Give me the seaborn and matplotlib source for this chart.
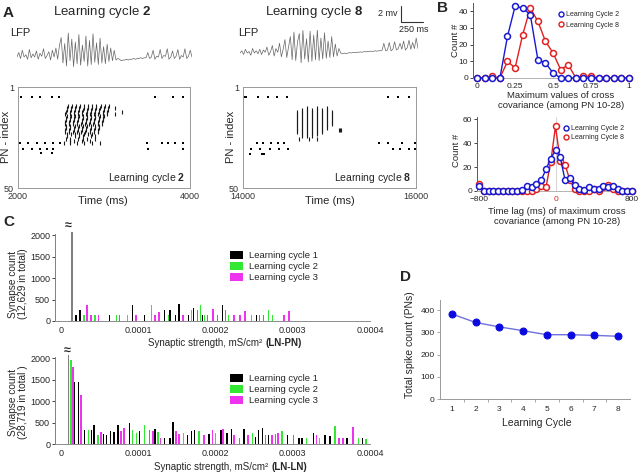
import numpy as np
import matplotlib
matplotlib.use("Agg")
import matplotlib.pyplot as plt
import seaborn as sns
from matplotlib.patches import Patch
from matplotlib.lines import Line2D

sns.set_style("white")
plt.rcParams["font.family"] = ["Liberation Sans", "DejaVu Sans"]
plt.rcParams["mathtext.fontset"] = "custom"
plt.rcParams["mathtext.rm"] = "Liberation Sans"
plt.rcParams["mathtext.bf"] = "Liberation Sans:bold"
plt.rcParams["axes.edgecolor"] = "0.45"
plt.rcParams["axes.linewidth"] = 0.7

# ---------------- data ----------------
# A: LFP traces (mV, relative to baseline), sampled evenly over the 2 s window
lfp_c2 = [0, 0.6, -0.2, 0.9, 0, 0.3, -0.3, 1.0, -0.1, 0.4, 0, 0.8, -0.3, 0.5, 0.1, 1.1, -0.2, 0.2, 0.7, -0.4,
          0.9, 0.0, 1.2, -0.3, 1.5,
          2.6, -0.8, 1.8, -1.2, 3.2, -0.5, 2.4, -1.3, 2.0, -0.9, 3.0, -1.1, 1.6, -0.6, 2.8, -1.2, 2.2, -1.0,
          3.1, -0.7, 1.9, -1.0, 2.5, -0.8, 1.4, -0.9, 1.7, -0.6, 1.2, -0.5, 0.9, -0.4,
          -0.2, -0.3, -0.5, -0.4, -0.4, -0.3, -0.4, -0.3, -0.3, -0.2, -0.3, -0.2, -0.2, -0.1, -0.2, -0.1, -0.1,
          0.6, -0.2, 0.0, 0.9, -0.3, 0.1, 0.0, 1.0, -0.2, 0.2, 0.1, 1.1, -0.3, 0.0, 0.8, -0.2, 0.1, 1.0, -0.3,
          0.2, 0.0, 1.1, -0.2, 0.1, 0.9, 0.0]
lfp_c8 = [0, 0.3, -0.2, 0.5, 0, 0.2, -0.3, 0.6, 0, 0.3, -0.1, 0.5, -0.2, 0.4, 0.1, 0.8, -0.3, 0.2, 1.0, -0.4,
          0.6, 0.1, 1.3, -0.5, 0.5, 1.8, -0.6, 0.8, 2.2, -0.9,
          2.8, -1.0, 1.5, 2.6, -1.3, 3.0, -0.8, 1.9, -1.2, 2.9, -1.1, 2.4, -0.9, 3.1, -1.0, 2.0, -0.8, 2.7,
          -0.7, 1.6, -0.6, 2.2, -0.5, 1.2, -0.4, 0.6,
          0, -0.1, 0, -0.1, 0, 0.05, 0, 0.1, 0.05, 0.1, 0.1, 0.15, 0.1, 0.2, 0.15, 0.2, 0.2, 0.25, 0.2, 0.3,
          0.25, 0.3, 0.3, 0.35,
          1.3, 0.3, 0.4, 1.4, 0.3, 0.5, 1.5, 0.4, 0.6, 1.3, 0.5, 1.6, 0.4, 0.7, 1.7, 0.5, 1.4, 0.6, 2.0, 0.6]

# A: raster, learning cycle 2 (spike times in ms)
c2_row6 = [2035, 2160, 2256, 2395, 2477, 3593, 3802, 3919]
c2_row28 = [2023, 2116, 2220, 2314, 2407, 2488, 3500, 3674, 3744, 3826, 3919]
c2_row31 = [2058, 2163, 2256, 2337, 2407, 3512, 3919]
c2_row33 = [2267, 2395]
c2_burst_idx = list(range(10, 29))
c2_burst_times = [
    [2578, 2625, 2672, 2721, 2768, 2815, 2866, 2912, 2960, 3009, 3055],
    [2571, 2618, 2666, 2714, 2762, 2810, 2858, 2905, 2954, 3002, 3050, 3130],
    [2565, 2612, 2660, 2708, 2755, 2804, 2851, 2899, 2947, 2996, 3043],
    [2558, 2606, 2653, 2702, 2749, 2797, 2845, 2893, 2941, 2989, 3037, 3210],
    [2552, 2600, 2647, 2695, 2743, 2791, 2839, 2887, 2935, 2983, 3031, 3130],
    [2566, 2613, 2661, 2710, 2757, 2805, 2853, 2900, 2949, 2997],
    [2560, 2607, 2655, 2703, 2751, 2799, 2847, 2895, 2943, 2991],
    [2553, 2601, 2649, 2697, 2745, 2793, 2841, 2889, 2937, 2985],
    [2547, 2595, 2643, 2691, 2739, 2787, 2835, 2883, 2931, 2979],
    [2541, 2589, 2637, 2685, 2733, 2781, 2829, 2877, 2925, 2973],
    [2562, 2610, 2658, 2706, 2754, 2802, 2850, 2898, 2946],
    [2556, 2604, 2652, 2700, 2748, 2796, 2844, 2892, 2940],
    [2550, 2598, 2646, 2694, 2742, 2790, 2838, 2886, 2934],
    [2544, 2592, 2640, 2688, 2736, 2784, 2832, 2880, 2928],
    [2570, 2618, 2666, 2714, 2762, 2810, 2858],
    [2564, 2660, 2708, 2756, 2852, 2900],
    [2558, 2606, 2702, 2750, 2798, 2894],
    [2600, 2648, 2744, 2840],
    [2530, 2610, 2690, 2770, 2860, 2950],
]

# A: raster, learning cycle 8
c8_row6 = [14015, 14030, 14173, 14290, 14393, 14509, 15676, 15792, 15919]
c8_row28 = [14162, 14231, 14324, 14405, 14474, 15572, 15676, 15838, 15988]
c8_row31 = [14092, 14197, 14312, 14416, 14520, 15734, 15815, 15919, 15988]
c8_row33 = [14081, 14225, 14237]
c8_burst_idx = list(range(11, 27))
c8_burst_times = [
    [14740, 14855, 14971],
    [14683, 14741, 14797, 14856, 14912, 14972],
    [14625, 14681, 14739, 14799, 14854, 14914, 14970, 15030],
    [14623, 14683, 14741, 14797, 14856, 14912, 14972, 15028],
    [14626, 14680, 14740, 14798, 14855, 14913, 14971, 15031],
    [14622, 14684, 14738, 14800, 14853, 14915, 14969, 15029],
    [14625, 14681, 14742, 14796, 14857, 14911, 14973, 15027],
    [14623, 14683, 14739, 14799, 14854, 14914, 14970, 15030],
    [14626, 14680, 14741, 14797, 14856, 14912, 14972, 15028],
    [14622, 14684, 14740, 14798, 14855, 14913, 14971],
    [14625, 14681, 14738, 14800, 14853, 14915, 14969],
    [14623, 14683, 14742, 14796, 14857, 14911, 15112, 15120, 15128],
    [14626, 14680, 14739, 14799, 14854, 14914],
    [14682, 14741, 14797, 14856],
    [14684, 14740, 14798],
    [14650, 14760, 14850],
]

# B: cross covariance histograms
cov_bins = [0, 0.05, 0.1, 0.15, 0.2, 0.25, 0.3, 0.35, 0.4, 0.45, 0.5, 0.55, 0.6, 0.65, 0.7, 0.75, 0.8,
            0.85, 0.9, 0.95, 1.0]
cov_c2 = [0, 0, 0, 0, 25, 43, 42, 38, 11, 9, 3, 0, 0, 0, 0, 0, 0, 0, 0, 0, 0]
cov_c8 = [0, 0, 1, 0, 10, 6, 26, 42, 34, 22, 15, 5, 8, 0, 1, 1, 0, 0, 0, 0, 0]
lag_bins = [-800, -750, -700, -650, -600, -550, -500, -450, -400, -350, -300, -250, -200, -150, -100, -50,
            0, 50, 100, 150, 200, 250, 300, 350, 400, 450, 500, 550, 600, 650, 700, 750, 800]
lag_c2 = [4, 0, 0, 0, 0, 0, 0, 0, 0, 1, 4, 3, 6, 9, 18, 27, 34, 28, 9, 11, 5, 2, 1, 3, 2, 2, 4, 3, 4, 2, 0, 0, 0]
lag_c8 = [6, 0, 0, 0, 0, 0, 0, 0, 0, 0, 0, 0, 2, 4, 3, 24, 54, 25, 22, 9, 2, 0, 0, 0, 2, 0, 3, 5, 2, 0, 0, 0, 0]

# C: synaptic strength histograms (strength in units of 1e-5 mS/cm2)
lnpn_peak_pos, lnpn_peak_cnt = [1.4], [2300]
lnpn_c1_pos = [1.95, 2.5, 6.3, 9.3, 10.8, 13.4, 14.1, 14.85, 15.3, 16.5, 17.2, 18.35, 20.9, 25.3]
lnpn_c1_cnt = [140, 250, 130, 380, 130, 260, 250, 130, 400, 130, 300, 130, 370, 130]
lnpn_c2_pos = [3.0, 4.4, 7.2, 8.65, 11.7, 13.9, 16.9, 18.1, 18.6, 21.7, 24.7, 26.9, 27.4]
lnpn_c2_cnt = [130, 130, 130, 130, 380, 130, 250, 370, 130, 130, 130, 250, 130]
lnpn_c3_pos = [3.4, 3.9, 4.9, 7.6, 9.7, 12.2, 12.7, 15.8, 17.7, 19.0, 19.7, 20.25, 21.3, 22.4, 23.2, 23.8,
               25.7, 26.2, 28.9, 29.5]
lnpn_c3_cnt = [370, 130, 130, 130, 130, 130, 200, 130, 260, 130, 280, 130, 260, 130, 130, 240, 130, 130,
               130, 230]

lnln_peak_pos, lnln_peak_cnt = [1.0], [2300]
lnln_c1_pos = [1.8, 2.3, 3.1, 4.0, 4.3, 5.5, 5.9, 6.4, 6.9, 7.4, 8.9, 10.2, 12.2, 13.4, 14.1, 14.5, 16.4,
               16.9, 17.3, 19.2, 20.7, 21.5, 22.1, 23.7, 25.2, 25.6, 26.1, 26.9, 29.3, 30.8, 31.2, 32.7,
               34.2, 34.8, 37.0, 39.0]
lnln_c1_cnt = [1450, 1450, 330, 330, 450, 230, 200, 300, 280, 450, 500, 300, 350, 150, 150, 520, 200, 300,
               330, 230, 320, 250, 340, 340, 170, 330, 370, 200, 200, 150, 150, 250, 200, 180, 130, 150]
lnln_c2_pos = [1.3, 2.7, 3.55, 4.8, 9.3, 9.8, 10.8, 12.6, 15.9, 17.9, 20.0, 24.8, 28.6, 31.8, 33.5, 35.5,
               38.5, 39.5]
lnln_c2_cnt = [1950, 600, 330, 200, 330, 250, 450, 280, 250, 300, 250, 250, 300, 150, 150, 420, 150, 120]
lnln_c3_pos = [1.6, 2.6, 5.2, 7.8, 8.2, 11.5, 11.9, 12.9, 14.9, 15.3, 18.5, 19.6, 21.0, 22.4, 23.1, 24.2,
               26.5, 27.3, 27.8, 28.1, 30.1, 33.1, 36.0, 36.5, 37.8]
lnln_c3_cnt = [1800, 1150, 280, 300, 380, 330, 300, 150, 300, 230, 200, 330, 350, 200, 150, 200, 200, 200,
               230, 250, 200, 200, 150, 150, 400]

# D: total PN spike count per learning cycle
cycles = [1, 2, 3, 4, 5, 6, 7, 8]
spike_total = [382, 344, 324, 307, 289, 289, 286, 282]

cycle_labels = ["Learning cycle 1", "Learning cycle 2", "Learning cycle 3"]
cycle_colors = ["black", "#33e833", "#ee33ee"]
BLUE, RED = "#1818d0", "#e02020"

# ---------------- layout helpers ----------------
W, H = 640, 472
fig = plt.figure(figsize=(6.4, 4.72), dpi=100)


def rect(l, t, r, b):
    return [l / W, 1 - b / H, (r - l) / W, (b - t) / H]


ov = fig.add_axes([0, 0, 1, 1], zorder=10)
ov.set_xlim(0, W)
ov.set_ylim(H, 0)
ov.axis("off")


def put(x, y, s, **kw):
    return ov.text(x, y, s, **kw)


# ---------------- A ----------------
def draw_lfp(box, t0, vals, lo, hi):
    ax = fig.add_axes(rect(*box))
    t = np.linspace(t0, t0 + 2000, len(vals))
    ax.plot(t, vals, color="0.4", lw=0.5)
    ax.set_xlim(t0, t0 + 2000)
    ax.set_ylim(lo, hi)
    ax.axis("off")


def draw_raster(box, t0, rows, b_idx, b_times, cyc, lab_x):
    ax = fig.add_axes(rect(*box))
    for idx, times in rows:
        ax.scatter(times, np.full(len(times), idx), marker="s", s=2.0, color="k", linewidths=0)
    for idx, times in zip(b_idx, b_times):
        ax.scatter(times, np.full(len(times), idx), marker="|", s=5, color="0.1", linewidths=0.8)
    ax.set_xlim(t0, t0 + 2000)
    ax.set_ylim(50, 1)
    ax.set_xticks([t0, t0 + 2000])
    ax.set_yticks([1, 50])
    ax.tick_params(length=0, labelsize=6.5, pad=3, colors="0.2")
    for sp in ax.spines.values():
        sp.set_color("0.6")
        sp.set_linewidth(0.7)
    ax.text(0.97, 0.1, "Learning cycle $\\mathbf{%d}$" % cyc, transform=ax.transAxes,
            ha="right", va="center", fontsize=7.5)
    ax.set_xlabel("Time (ms)", fontsize=8)
    ax.xaxis.set_label_coords(lab_x, 196, transform=ov.transData)
    ax.set_ylabel("PN - index", fontsize=8)
    ax.yaxis.set_label_coords(box[0] - 7, 137, transform=ov.transData)
    return ax


draw_lfp((17, 30, 192, 75), 2000, lfp_c2, -2.4, 3.6)
draw_lfp((240, 30, 418, 75), 14000, lfp_c8, -2.93, 3.07)
draw_raster((18, 87, 190, 188), 2000,
            [(6, c2_row6), (28, c2_row28), (31, c2_row31), (33, c2_row33)],
            c2_burst_idx, c2_burst_times, 2, 103)
draw_raster((243, 87, 416, 188), 14000,
            [(6, c8_row6), (28, c8_row28), (31, c8_row31), (33.5, c8_row33)],
            c8_burst_idx, c8_burst_times, 8, 330)

put(3, 13, "A", fontsize=11, fontweight="bold", va="center")
put(102, 12, "Learning cycle $\\mathbf{2}$", fontsize=9.5, ha="center", va="center")
put(314, 12, "Learning cycle $\\mathbf{8}$", fontsize=9.5, ha="center", va="center")
put(10, 33, "LFP", fontsize=8, va="center")
put(238, 33, "LFP", fontsize=8, va="center")
put(397, 13, "2 mv", fontsize=6.5, ha="right", va="center")
ov.plot([400.5, 400.5, 423], [6, 22, 22], color="0.2", lw=0.8)
put(414, 30, "250 ms", fontsize=6.5, ha="center", va="center")

# ---------------- B ----------------
def style_b(ax):
    sns.despine(ax=ax)
    ax.spines["left"].set_color("0.35")
    ax.spines["bottom"].set_color("0.7")
    ax.tick_params(left=True, length=2, width=0.6, pad=1.5, labelsize=6, colors="0.15")


def hist_line(ax, x, y, color, z):
    sns.lineplot(x=x, y=y, ax=ax, color=color, lw=1.0, marker="o", markersize=4.3,
                 markerfacecolor="white", markeredgecolor=color, markeredgewidth=1.1,
                 clip_on=False, zorder=z)


axb1 = fig.add_axes(rect(473, 3, 631, 78))
hist_line(axb1, cov_bins, cov_c8, RED, 3)
hist_line(axb1, cov_bins, cov_c2, BLUE, 4)
axb1.set_xlim(-0.027, 1.013)
axb1.set_ylim(0, 45)
axb1.set_xticks([0, 0.25, 0.5, 0.75, 1])
axb1.set_xticklabels(["0", "0.25", "0.5", "0.75", "1"])
axb1.set_yticks([0, 10, 20, 30, 40])
style_b(axb1)
axb1.set_xlabel("Maximum values of cross\ncovariance (among PN 10-28)", fontsize=6.8, linespacing=1.15)
axb1.xaxis.set_label_coords(561, 91, transform=ov.transData)
axb1.set_ylabel("Count #", fontsize=6.8)
axb1.yaxis.set_label_coords(460, 40, transform=ov.transData)

axb2 = fig.add_axes(rect(477, 117, 634, 191))
axb2.axvline(0, color="0.8", lw=0.6, zorder=1)
hist_line(axb2, lag_bins, lag_c8, RED, 3)
hist_line(axb2, lag_bins, lag_c2, BLUE, 4)
axb2.set_xlim(-821, 821)
axb2.set_ylim(0, 61.7)
axb2.set_xticks([-800, 0, 800])
axb2.set_yticks([0, 20, 40, 60])
style_b(axb2)
axb2.get_xticklabels()[1].set_color(RED)
axb2.set_xlabel("Time lag (ms) of maximum cross\ncovariance (among PN 10-28)", fontsize=6.8,
                linespacing=1.15)
axb2.xaxis.set_label_coords(557, 207, transform=ov.transData)
axb2.set_ylabel("Count #", fontsize=6.8)
axb2.yaxis.set_label_coords(461, 150, transform=ov.transData)

b_handles = [Line2D([], [], ls="none", marker="o", markersize=3.6, markerfacecolor="white",
                    markeredgecolor=c, markeredgewidth=1.0) for c in (BLUE, RED)]
b_labels = ["Learning Cycle 2", "Learning Cycle 8"]
axb1.legend(b_handles, b_labels, loc="upper left", bbox_to_anchor=(558 / W, 1 - 11 / H),
            bbox_transform=fig.transFigure, frameon=False, fontsize=5, handlelength=0.8,
            handletextpad=0.3, labelspacing=0.55, borderpad=0, borderaxespad=0)
axb2.legend(b_handles, b_labels, loc="upper left", bbox_to_anchor=(563 / W, 1 - 125 / H),
            bbox_transform=fig.transFigure, frameon=False, fontsize=5, handlelength=0.8,
            handletextpad=0.3, labelspacing=0.3, borderpad=0, borderaxespad=0)
put(437, 8, "B", fontsize=11, fontweight="bold", va="center")


# ---------------- C ----------------
def draw_strength(box, peak_pos, peak_cnt, series, leg_top):
    ax = fig.add_axes(rect(*box))
    ax.set_facecolor("none")
    ax.bar(np.array(peak_pos) * 1e-5, peak_cnt, width=2.4e-6, color="0.5", lw=0)
    for (pos, cnt), col in zip(series, cycle_colors):
        ax.bar(np.array(pos) * 1e-5, cnt, width=1.9e-6, color=col, lw=0)
    ax.set_xlim(-0.75e-5, 0.0004)
    ax.set_ylim(0, 2070)
    ax.set_xticks([0, 0.0001, 0.0002, 0.0003, 0.0004])
    ax.set_xticklabels(["0", "0.0001", "0.0002", "0.0003", "0.0004"])
    ax.set_yticks([0, 500, 1000, 1500, 2000])
    sns.despine(ax=ax)
    ax.spines["left"].set_color("0.5")
    ax.spines["left"].set_bounds(0, 2030)
    ax.spines["bottom"].set_color("0.55")
    ax.spines["bottom"].set_linestyle((0, (1.5, 1)))
    ax.tick_params(left=True, length=2, width=0.6, pad=1.5, labelsize=6.5, colors="0.15")
    hs = [Patch(facecolor=c, edgecolor="none") for c in cycle_colors]
    ax.legend(hs, cycle_labels, loc="upper left", bbox_to_anchor=(230 / W, 1 - leg_top / H),
              bbox_transform=fig.transFigure, frameon=False, fontsize=6.8, handlelength=1.4,
              handleheight=0.9, handletextpad=0.6, labelspacing=0.2, borderpad=0, borderaxespad=0)
    return ax


draw_strength((55, 232, 370, 321), lnpn_peak_pos, lnpn_peak_cnt,
              [(lnpn_c1_pos, lnpn_c1_cnt), (lnpn_c2_pos, lnpn_c2_cnt), (lnpn_c3_pos, lnpn_c3_cnt)], 251)
draw_strength((55, 355, 370, 444), lnln_peak_pos, lnln_peak_cnt,
              [(lnln_c1_pos, lnln_c1_cnt), (lnln_c2_pos, lnln_c2_cnt), (lnln_c3_pos, lnln_c3_cnt)], 374)

put(3, 222, "C", fontsize=11, fontweight="bold", va="center")
put(68, 226, "\u2248", fontsize=9, fontweight="bold", ha="center", va="center")
put(67, 351, "\u2248", fontsize=9, fontweight="bold", ha="center", va="center")
put(18, 284, "Synapse count\n(12,629 in total)", fontsize=7.3, rotation=90, ha="center", va="center",
    multialignment="center", linespacing=1.1)
put(18, 402, "Synapse count\n(28,719 in total )", fontsize=7.3, rotation=90, ha="center", va="center",
    multialignment="center", linespacing=1.1)
t1 = put(148, 343, "Synaptic strength, mS/cm\u00b2 ", fontsize=7, va="center")
ov.annotate("(LN-PN)", xy=(1, 0), xycoords=t1, va="bottom", ha="left", fontsize=7, fontweight="bold")
t2 = put(154, 467, "Synaptic strength, mS/cm\u00b2 ", fontsize=7, va="center")
ov.annotate("(LN-LN)", xy=(1, 0), xycoords=t2, va="bottom", ha="left", fontsize=7, fontweight="bold")

# ---------------- D ----------------
axd = fig.add_axes(rect(440, 300, 630, 399))
sns.lineplot(x=cycles, y=spike_total, ax=axd, color="#7070dd", lw=1.0, marker="o", markersize=5,
             markerfacecolor="#0a0ae0", markeredgecolor="#0a0ae0", clip_on=False)
axd.set_xlim(0.5, 8.5)
axd.set_ylim(0, 445)
axd.set_xticks(cycles)
axd.set_xticks(np.array(cycles[:-1]) + 0.5, minor=True)
axd.set_yticks([0, 100, 200, 300, 400])
sns.despine(ax=axd)
axd.spines["left"].set_color("0.6")
axd.spines["bottom"].set_color("0.6")
axd.tick_params(axis="x", which="major", length=0, pad=5, labelsize=6, colors="0.15")
axd.tick_params(axis="x", which="minor", bottom=True, length=2, width=0.6, color="0.6")
axd.tick_params(axis="y", left=True, length=2, width=0.6, pad=2, labelsize=6, colors="0.15")
axd.tick_params(axis="y", color="0.6")
axd.set_xlabel("Learning Cycle", fontsize=7.5)
axd.xaxis.set_label_coords(537, 418, transform=ov.transData)
axd.set_ylabel("Total spike count (PNs)", fontsize=7.5)
axd.yaxis.set_label_coords(415, 345, transform=ov.transData)
put(400, 277, "D", fontsize=11, fontweight="bold", va="center")

fig.savefig("out.png", dpi=100)
